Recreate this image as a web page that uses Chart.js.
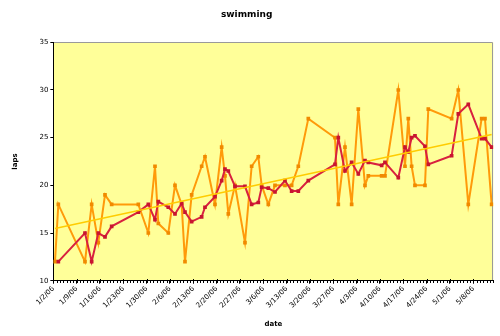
<!DOCTYPE html>
<html>
<head>
<meta charset="utf-8">
<script src="https://cdn.jsdelivr.net/npm/chart.js@4.4.1/dist/chart.umd.min.js"></script>
<style>
  html, body { margin: 0; padding: 0; background: #ffffff; }
  #c { display: block; }
</style>
</head>
<body>
<canvas id="c" width="500" height="336"></canvas>
<script>
// Swim log: laps per session and the running average, Jan - May 2006
const swimDates = [
  '1/2/06','1/3/06','1/11/06','1/13/06','1/15/06','1/17/06','1/19/06','1/27/06','1/30/06','2/1/06',
  '2/2/06','2/5/06','2/7/06','2/9/06','2/10/06','2/12/06','2/15/06','2/16/06','2/19/06','2/21/06',
  '2/22/06','2/23/06','2/25/06','2/28/06','3/2/06','3/4/06','3/5/06','3/7/06','3/9/06','3/12/06',
  '3/14/06','3/16/06','3/19/06','3/27/06','3/28/06','3/30/06','4/1/06','4/3/06','4/5/06','4/6/06',
  '4/10/06','4/11/06','4/15/06','4/17/06','4/18/06','4/19/06','4/20/06','4/23/06','4/24/06','5/1/06',
  '5/3/06','5/6/06','5/10/06','5/11/06','5/13/06'
];
const lapsSwum = [
  12, 18, 12, 18, 14, 19, 18, 18, 15, 22,
  16, 15, 20, 18, 12, 19, 22, 23, 18, 24,
  21, 17, 20, 14, 22, 23, 20, 18, 20, 20,
  20, 22, 27, 25, 18, 24, 18, 28, 20, 21,
  21, 21, 30, 22, 27, 22, 20, 20, 28, 27,
  30, 18, 27, 27, 18
];
const lapsAverage = [
  null, 12, 15, 12, 15, 14.6, 15.7, 17.2, 18, 16.4,
  18.3, 17.7, 17.0, 18.1, 17.2, 16.2, 16.7, 17.7, 18.8, 20.5,
  21.7, 21.5, 19.9, 19.9, 18.0, 18.2, 19.8, 19.7, 19.3, 20.5,
  19.4, 19.4, 20.5, 22.2, 25.0, 21.5, 22.4, 21.2, 22.6, 22.4,
  22.1, 22.4, 20.8, 24.0, 23.5, 25.0, 25.2, 24.1, 22.2, 23.1,
  27.5, 28.5, 24.9, 24.9, 24.0
];
const weekTickLabels = [
  '1/2/06','1/9/06','1/16/06','1/23/06','1/30/06','2/6/06','2/13/06','2/20/06','2/27/06','3/6/06',
  '3/13/06','3/20/06','3/27/06','4/3/06','4/10/06','4/17/06','4/24/06','5/1/06','5/8/06'
];
const yTickValues = [10, 15, 20, 25, 30, 35];

// Day numbers counted from the first week label
const DAY_MS = 86400000;
function toUTC(s) {
  const [m, d, y] = s.split('/').map(Number);
  return Date.UTC(2000 + y, m - 1, d);
}
const origin = toUTC(weekTickLabels[0]);
const dayOf = s => Math.round((toUTC(s) - origin) / DAY_MS);

const days = swimDates.map(dayOf);
const firstDay = days[0];
const lastDay = days[days.length - 1];

const lapsPoints = days.map((d, i) => ({ x: d, y: lapsSwum[i] }));
const avgPoints = days.map((d, i) => ({ x: d, y: lapsAverage[i] }));

// Linear least-squares trend of laps over time
const n = days.length;
const mx = days.reduce((a, b) => a + b, 0) / n;
const my = lapsSwum.reduce((a, b) => a + b, 0) / n;
let sxy = 0, sxx = 0;
for (let i = 0; i < n; i++) {
  sxy += (days[i] - mx) * (lapsSwum[i] - my);
  sxx += (days[i] - mx) * (days[i] - mx);
}
const slope = sxy / sxx;
const trendPoints = [firstDay, lastDay].map(d => ({ x: d, y: my + slope * (d - mx) }));

const weekTickDays = weekTickLabels.map(dayOf);

const FONT = 'DejaVu Sans';

// Light yellow plot area with a grey frame
const plotFrame = {
  id: 'plotFrame',
  beforeDraw(chart) {
    const { ctx, chartArea: a } = chart;
    ctx.save();
    ctx.fillStyle = '#FFFF99';
    ctx.fillRect(a.left, a.top, a.right - a.left, a.bottom - a.top);
    ctx.strokeStyle = '#9a9a9a';
    ctx.lineWidth = 1;
    ctx.beginPath();
    ctx.moveTo(a.left, Math.round(a.top) + 0.5);
    ctx.lineTo(Math.round(a.right) - 0.5, Math.round(a.top) + 0.5);
    ctx.lineTo(Math.round(a.right) - 0.5, a.bottom);
    ctx.stroke();
    ctx.restore();
  }
};

// Small daily tick marks along the date axis
const dayTicks = {
  id: 'dayTicks',
  afterDraw(chart) {
    const { ctx } = chart;
    const xs = chart.scales.x;
    const y0 = Math.round(xs.top);
    ctx.save();
    ctx.strokeStyle = '#000';
    ctx.lineWidth = 1;
    ctx.beginPath();
    for (let d = firstDay; d <= lastDay + 1; d++) {
      const px = Math.round(xs.getPixelForValue(d - 0.5)) + 0.5;
      ctx.moveTo(px, y0);
      ctx.lineTo(px, y0 + 2);
    }
    weekTickDays.forEach(d => {
      const px = Math.round(xs.getPixelForValue(d - 0.5)) + 0.5;
      ctx.moveTo(px, y0 - 2);
      ctx.lineTo(px, y0);
    });
    ctx.stroke();
    ctx.restore();
  }
};

new Chart(document.getElementById('c'), {
  type: 'line',
  data: {
    datasets: [
      {
        label: 'trend',
        data: trendPoints,
        borderColor: '#FFCC00',
        borderWidth: 1.5,
        pointRadius: 0,
        order: 0
      },
      {
        label: 'average',
        data: avgPoints,
        borderColor: '#D8213F',
        backgroundColor: '#C8152F',
        borderWidth: 2,
        pointStyle: 'rect',
        pointRadius: 2.6,
        pointBorderWidth: 0,
        order: 1
      },
      {
        label: 'laps',
        data: lapsPoints,
        borderColor: '#FF9A0A',
        backgroundColor: '#F08A00',
        borderWidth: 2,
        pointStyle: 'rect',
        pointRadius: 2.6,
        pointBorderWidth: 0,
        order: 2
      }
    ]
  },
  options: {
    responsive: false,
    animation: false,
    devicePixelRatio: 1,
    tension: 0,
    layout: { padding: { left: 0, right: 6.7, top: 0, bottom: 0 } },
    plugins: {
      legend: { display: false },
      tooltip: { enabled: false },
      title: {
        display: true,
        text: 'swimming',
        color: '#000',
        font: { family: FONT, size: 9, weight: 'bold' },
        padding: { top: 9, bottom: 22.5 }
      }
    },
    scales: {
      x: {
        type: 'linear',
        min: firstDay - 0.5,
        max: lastDay + 0.5,
        afterBuildTicks: s => { s.ticks = weekTickDays.map(d => ({ value: d - 0.5 })); },
        afterFit: s => { s.height = 55.3; },
        ticks: {
          autoSkip: false,
          minRotation: 45,
          maxRotation: 45,
          padding: 1,
          color: '#000',
          font: { family: FONT, size: 7 },
          callback: (v, i) => weekTickLabels[i]
        },
        grid: { drawOnChartArea: false, drawTicks: true, tickLength: 3, tickColor: '#000' },
        border: { display: true, color: '#000', width: 1 },
        title: {
          display: true,
          text: 'date',
          color: '#000',
          font: { family: FONT, size: 7, weight: 'bold' },
          padding: { top: 0, bottom: 8 }
        }
      },
      y: {
        min: 10,
        max: 35,
        afterBuildTicks: s => { s.ticks = yTickValues.map(v => ({ value: v })); },
        afterFit: s => { s.width = 53.33; },
        ticks: {
          padding: 2,
          color: '#000',
          font: { family: FONT, size: 7 }
        },
        grid: { drawOnChartArea: false, drawTicks: true, tickLength: 3, tickColor: '#000' },
        border: { display: true, color: '#000', width: 1 },
        title: {
          display: true,
          text: 'laps',
          color: '#000',
          font: { family: FONT, size: 7, weight: 'bold' },
          padding: { top: 11, bottom: 0 }
        }
      }
    }
  },
  plugins: [plotFrame, dayTicks]
});
</script>
</body>
</html>
